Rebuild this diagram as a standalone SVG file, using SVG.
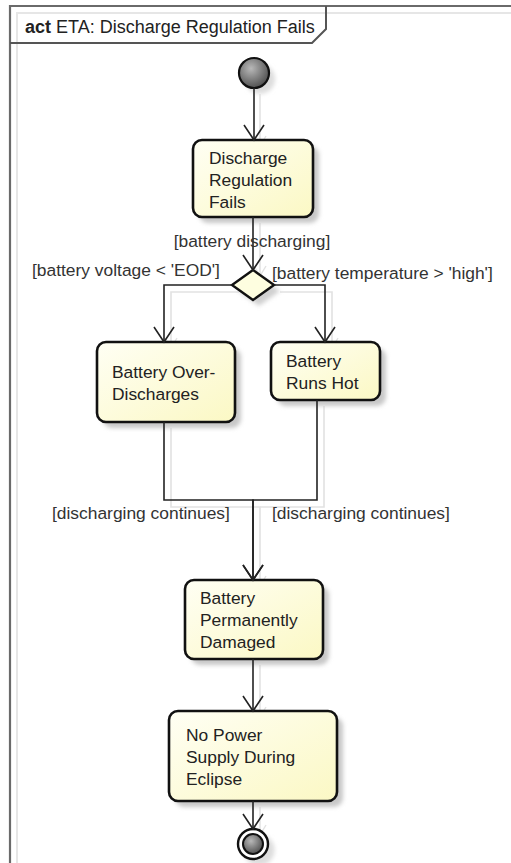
<svg xmlns="http://www.w3.org/2000/svg" width="511" height="863" viewBox="0 0 511 863">
<style>
.t{font-family:"Liberation Sans",Arial,sans-serif;font-size:17.4px;fill:#222}
.lbl{font-family:"Liberation Sans",Arial,sans-serif;font-size:17.4px;fill:#333}
.box{fill:url(#yg);stroke:#111;stroke-width:2.6}
.sh{fill:#c8c8c8;filter:url(#blur)}
.c{fill:none;stroke:#222;stroke-width:1.6}
.cs{fill:none;stroke:#e2e2e2;stroke-width:1.6}
</style>
<defs>
<linearGradient id="yg" x1="0" y1="0" x2="1" y2="1">
<stop offset="0" stop-color="#fffff4"/>
<stop offset="1" stop-color="#fbf8c4"/>
</linearGradient>
<radialGradient id="gg" cx="0.4" cy="0.35" r="0.7">
<stop offset="0" stop-color="#b8b8b8"/>
<stop offset="1" stop-color="#4a4a4a"/>
</radialGradient>
<filter id="blur" x="-20%" y="-20%" width="140%" height="140%"><feGaussianBlur stdDeviation="2"/></filter>
<marker id="arr" markerWidth="24" markerHeight="24" refX="12" refY="12" orient="auto" markerUnits="userSpaceOnUse" overflow="visible">
<path d="M-3,2 L12,12 L-3,22" fill="none" stroke="#222" stroke-width="1.6"/>
</marker>
<marker id="arrs" markerWidth="24" markerHeight="24" refX="12" refY="12" orient="auto" markerUnits="userSpaceOnUse" overflow="visible">
<path d="M2,6 L12,12 L2,18" fill="none" stroke="#e2e2e2" stroke-width="1.4"/>
</marker>
</defs>
<rect width="511" height="863" fill="#fff"/>
<g id="frame">
<path d="M17,863 V13 H511" fill="none" stroke="#e6e6e6" stroke-width="2"/>
<path d="M10,863 V6 H511" fill="none" stroke="#6a6a6a" stroke-width="2.2"/>
<path d="M10,43 H312 L326,29 V6" fill="none" stroke="#555" stroke-width="2"/>
<text class="t" x="25" y="33" style="font-size:18px"><tspan font-weight="bold">act</tspan> ETA: Discharge Regulation Fails</text>
</g>
<g id="connector-shadows" class="cs-g">
<path class="cs" d="M260,94 V146" marker-end="url(#arrs)"/>
<path class="cs" d="M260,223 V276" marker-end="url(#arrs)"/>
<path class="cs" d="M239,292 H171 V348" marker-end="url(#arrs)"/>
<path class="cs" d="M280,292 H332 V348" marker-end="url(#arrs)"/>
<path class="cs" d="M171,428 V507 H260 V586" marker-end="url(#arrs)"/>
<path class="cs" d="M324,406 V507 H260"/>
<path class="cs" d="M260,665 V717" marker-end="url(#arrs)"/>
<path class="cs" d="M260,807 V835" marker-end="url(#arrs)"/>
</g>
<g id="initial">
<circle cx="260" cy="79" r="15" fill="#ddd" filter="url(#blur)"/>
<circle cx="254" cy="73" r="15" fill="url(#gg)" stroke="#111" stroke-width="2.2"/>
</g>
<g id="n1">
<rect class="sh" x="199" y="146" width="120" height="77" rx="9"/>
<rect class="box" x="193" y="140" width="120" height="77" rx="9"/>
<text class="t" x="209" y="164">Discharge</text>
<text class="t" x="209" y="186">Regulation</text>
<text class="t" x="209" y="208">Fails</text>
</g>
<g id="decision">
<path d="M259,276 L280,291 L259,306 L238,291 Z" fill="#d0d0d0" filter="url(#blur)"/>
<path d="M253,270 L274,285 L253,300 L232,285 Z" fill="#fefee0" stroke="#111" stroke-width="2.4"/>
</g>
<g id="n2">
<rect class="sh" x="103" y="348" width="138" height="80" rx="9"/>
<rect class="box" x="97" y="342" width="138" height="80" rx="9"/>
<text class="t" x="112" y="378">Battery Over-</text>
<text class="t" x="112" y="400">Discharges</text>
</g>
<g id="n3">
<rect class="sh" x="277" y="348" width="109" height="58" rx="9"/>
<rect class="box" x="271" y="342" width="109" height="58" rx="9"/>
<text class="t" x="286" y="367">Battery</text>
<text class="t" x="286" y="389">Runs Hot</text>
</g>
<g id="n4">
<rect class="sh" x="191" y="586" width="138" height="79" rx="9"/>
<rect class="box" x="185" y="580" width="138" height="79" rx="9"/>
<text class="t" x="200" y="604">Battery</text>
<text class="t" x="200" y="626">Permanently</text>
<text class="t" x="200" y="648">Damaged</text>
</g>
<g id="n5">
<rect class="sh" x="175" y="717" width="168" height="90" rx="9"/>
<rect class="box" x="169" y="711" width="168" height="90" rx="9"/>
<text class="t" x="186" y="741">No Power</text>
<text class="t" x="186" y="763">Supply During</text>
<text class="t" x="186" y="785">Eclipse</text>
</g>
<g id="final">
<circle cx="259" cy="850" r="15.5" fill="#ddd" filter="url(#blur)"/>
<circle cx="253" cy="844" r="15" fill="#fff" stroke="#111" stroke-width="2.4"/>
<circle cx="253" cy="844" r="10" fill="url(#gg)" stroke="#111" stroke-width="2"/>
</g>
<g id="connectors">
<path class="c" d="M254,88 V140" marker-end="url(#arr)"/>
<path class="c" d="M253,217 V270" marker-end="url(#arr)"/>
<path class="c" d="M232,285 H164 V342" marker-end="url(#arr)"/>
<path class="c" d="M274,285 H325 V342" marker-end="url(#arr)"/>
<path class="c" d="M164,422 V500 H253 V580" marker-end="url(#arr)"/>
<path class="c" d="M317,400 V500 H253 V580" marker-end="url(#arr)"/>
<path class="c" d="M253,659 V711" marker-end="url(#arr)"/>
<path class="c" d="M253,801 V829" marker-end="url(#arr)"/>
<text class="lbl" x="252" y="247" text-anchor="middle">[battery discharging]</text>
<text class="lbl" x="32" y="276">[battery voltage &lt; 'EOD']</text>
<text class="lbl" x="272" y="279">[battery temperature &gt; 'high']</text>
<text class="lbl" x="52" y="519">[discharging continues]</text>
<text class="lbl" x="272" y="519">[discharging continues]</text>
</g>
</svg>
